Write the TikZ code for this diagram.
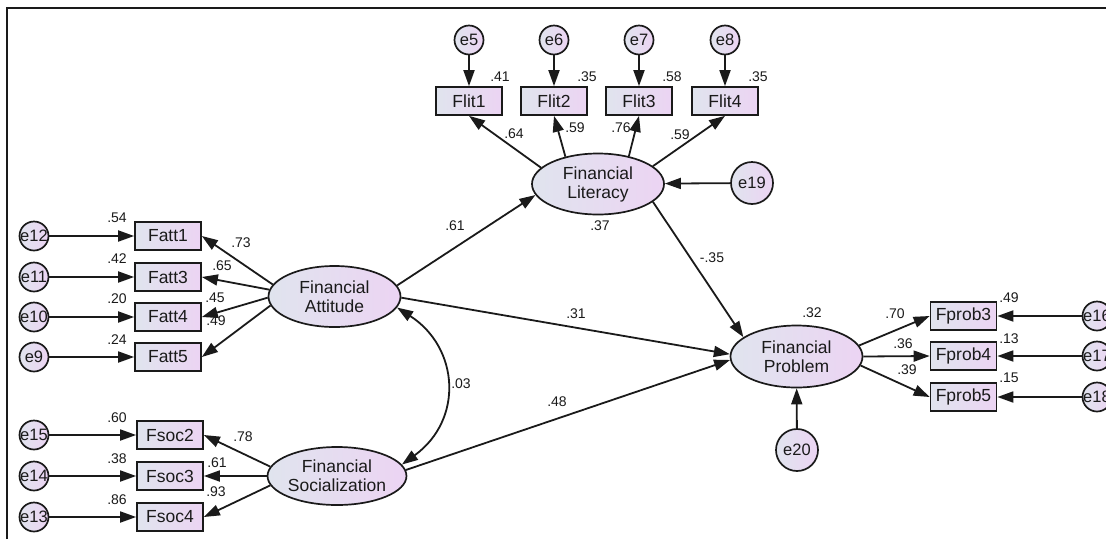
\documentclass[tikz,border=0pt]{standalone}
\usepackage{fontspec}
\setmainfont{Liberation Sans}
\usetikzlibrary{shapes.geometric,arrows.meta}
\definecolor{ink}{HTML}{1A1A1A}
\definecolor{fillL}{RGB}{224,228,238}
\definecolor{fillR}{RGB}{236,212,243}

\begin{document}
\begin{tikzpicture}[x=1pt,y=-1pt,
  link/.style={line width=1.8pt, draw=ink, -{Triangle[length=16pt,width=11pt]}},
  covar/.style={line width=1.8pt, draw=ink, {Triangle[length=16pt,width=11pt]}-{Triangle[length=16pt,width=11pt]}},
  obs/.style={rectangle, draw=ink, line width=1.7pt, left color=fillL, right color=fillR,
    minimum width=66pt, minimum height=28pt, inner sep=0pt,
    font=\fontsize{17.5}{19}\selectfont, text=ink},
  lat/.style={ellipse, draw=ink, line width=1.7pt, left color=fillL, right color=fillR,
    minimum width=132pt, minimum height=61pt, inner sep=0pt, align=center,
    font=\fontsize{17.5}{19}\selectfont, text=ink},
  err/.style={circle, draw=ink, line width=1.7pt, left color=fillL, right color=fillR,
    minimum size=29pt, inner sep=0pt, font=\fontsize{16.5}{18}\selectfont, text=ink},
  errbig/.style={err, minimum size=42pt},
  coef/.style={inner sep=0pt, font=\fontsize{14}{15}\selectfont, text=ink},
]
\useasboundingbox (0,0) rectangle (1106,539);
\clip (0,0) rectangle (1106,539);

% frame
\draw[line width=2.2pt, ink] (7,539) -- (7,8) -- (1106,8);

% ---------- latent variables ----------
\node[lat] (FA) at (334.5,296.5) {Financial\\Attitude};
\node[lat, minimum height=58pt] (FS) at (337,476) {Financial\\Socialization};
\node[lat] (FL) at (598,184) {Financial\\Literacy};
\node[lat, minimum height=62pt] (FP) at (796.5,356.5) {Financial\\Problem};

% ---------- literacy indicators ----------
\node[err] (e5) at (469,40) {e5};
\node[err] (e6) at (554,40) {e6};
\node[err] (e7) at (639,40) {e7};
\node[err] (e8) at (725,40) {e8};
\node[obs] (Flit1) at (469,101) {Flit1};
\node[obs] (Flit2) at (554,101) {Flit2};
\node[obs] (Flit3) at (639,101) {Flit3};
\node[obs] (Flit4) at (725,101) {Flit4};
\node[errbig] (e19) at (752,183) {e19};

% ---------- attitude indicators ----------
\node[obs] (Fatt1) at (168,236) {Fatt1};
\node[obs] (Fatt3) at (168,277) {Fatt3};
\node[obs] (Fatt4) at (168,317) {Fatt4};
\node[obs] (Fatt5) at (168,357) {Fatt5};
\node[err] (e12) at (34,236) {\makebox[0pt]{e12}};
\node[err] (e11) at (34,277) {\makebox[0pt]{e11}};
\node[err] (e10) at (34,317) {\makebox[0pt]{e10}};
\node[err] (e9) at (34,357) {e9};

% ---------- socialization indicators ----------
\node[obs] (Fsoc2) at (170,435) {Fsoc2};
\node[obs] (Fsoc3) at (170,476) {Fsoc3};
\node[obs] (Fsoc4) at (170,517) {Fsoc4};
\node[err] (e15) at (34,435) {\makebox[0pt]{e15}};
\node[err] (e14) at (34,476) {\makebox[0pt]{e14}};
\node[err] (e13) at (34,517) {\makebox[0pt]{e13}};

% ---------- problem indicators ----------
\node[obs] (Fprob3) at (963.5,316) {Fprob3};
\node[obs] (Fprob4) at (963.5,356) {Fprob4};
\node[obs] (Fprob5) at (963.5,397) {Fprob5};
\node[err] (e16) at (1097,316) {\makebox[0pt]{e16}};
\node[err] (e17) at (1097,356) {\makebox[0pt]{e17}};
\node[err] (e18) at (1097,397) {\makebox[0pt]{e18}};
\node[errbig] (e20) at (797,450) {e20};

% ---------- paths ----------
\draw[link] (e5) -- (Flit1);
\draw[link] (e6) -- (Flit2);
\draw[link] (e7) -- (Flit3);
\draw[link] (e8) -- (Flit4);
\draw[link] (FL.164) -- (Flit1.south);
\draw[link] (FL.140) -- (Flit2.south);
\draw[link] (FL.42) -- (Flit3.south);
\draw[link] (FL.18) -- (Flit4.south);
\draw[link] (e19) -- (FL);

\draw[link] (e12) -- (Fatt1);
\draw[link] (e11) -- (Fatt3);
\draw[link] (e10) -- (Fatt4);
\draw[link] (e9) -- (Fatt5);
\draw[link] (FA.169) -- (Fatt1.east);
\draw[link] (FA.174) -- (Fatt3.east);
\draw[link] (FA.181) -- (Fatt4.east);
\draw[link] (FA.188) -- (Fatt5.east);

\draw[link] (e15) -- (Fsoc2);
\draw[link] (e14) -- (Fsoc3);
\draw[link] (e13) -- (Fsoc4);
\draw[link] (FS.172) -- (Fsoc2.east);
\draw[link] (FS.180) -- (Fsoc3.east);
\draw[link] (FS.188) -- (Fsoc4.east);

\draw[link] (e16) -- (Fprob3);
\draw[link] (e17) -- (Fprob4);
\draw[link] (e18) -- (Fprob5);
\draw[link] (FP.10) -- (Fprob3.west);
\draw[link] (FP.0) -- (Fprob4.west);
\draw[link] (FP.-8) -- (Fprob5.west);
\draw[link] (e20) -- (FP);

% structural paths
\draw[link] (FA.10) -- (FL.190);
\draw[link] (FA.-1) -- (FP.178);
\draw[link] (FS.5) -- (FP.183);
\draw[link] (FL.-18) -- (FP.160);
\draw[covar] (FA.-10) .. controls +(62,40) and +(62,-45) .. (FS.10);

% ---------- estimates ----------
\node[coef] (r41) at (500,77) {.41};
\node[coef] (r35a) at (587,77) {.35};
\node[coef] (r58) at (672,77) {.58};
\node[coef] (r35b) at (758,77) {.35};
\node[coef] (w64) at (514,134) {.64};
\node[coef] (w59a) at (575,128) {.59};
\node[coef] (w76) at (621,128) {.76};
\node[coef] (w59b) at (680,135) {.59};

\node[coef] (r54) at (117,218) {.54};
\node[coef] (r42) at (117,259) {.42};
\node[coef] (r20) at (117,299) {.20};
\node[coef] (r24) at (117,340) {.24};
\node[coef] (w73) at (241,243) {.73};
\node[coef] (w65) at (222,266) {.65};
\node[coef] (w45) at (215,298) {.45};
\node[coef] (w49) at (216,321) {.49};

\node[coef] (r60) at (117,418) {.60};
\node[coef] (r38) at (117,459) {.38};
\node[coef] (r86) at (117,500) {.86};
\node[coef] (w78) at (243,437) {.78};
\node[coef] (w61s) at (217,463) {.61};
\node[coef] (w93) at (216,492) {.93};

\node[coef] (b61) at (455,226) {.61};
\node[coef] (r37) at (600,226) {.37};
\node[coef] (b35) at (712,258) {-.35};
\node[coef] (b31) at (576,314) {.31};
\node[coef] (b48) at (557,402) {.48};
\node[coef] (c03) at (461,384) {.03};
\node[coef] (r32) at (812,313) {.32};

\node[coef] (w70) at (895,314) {.70};
\node[coef] (w36) at (903,344) {.36};
\node[coef] (w39) at (907,370) {.39};
\node[coef] (r49) at (1009,298) {.49};
\node[coef] (r13) at (1009,339) {.13};
\node[coef] (r15) at (1009,378) {.15};
\end{tikzpicture}
\end{document}
